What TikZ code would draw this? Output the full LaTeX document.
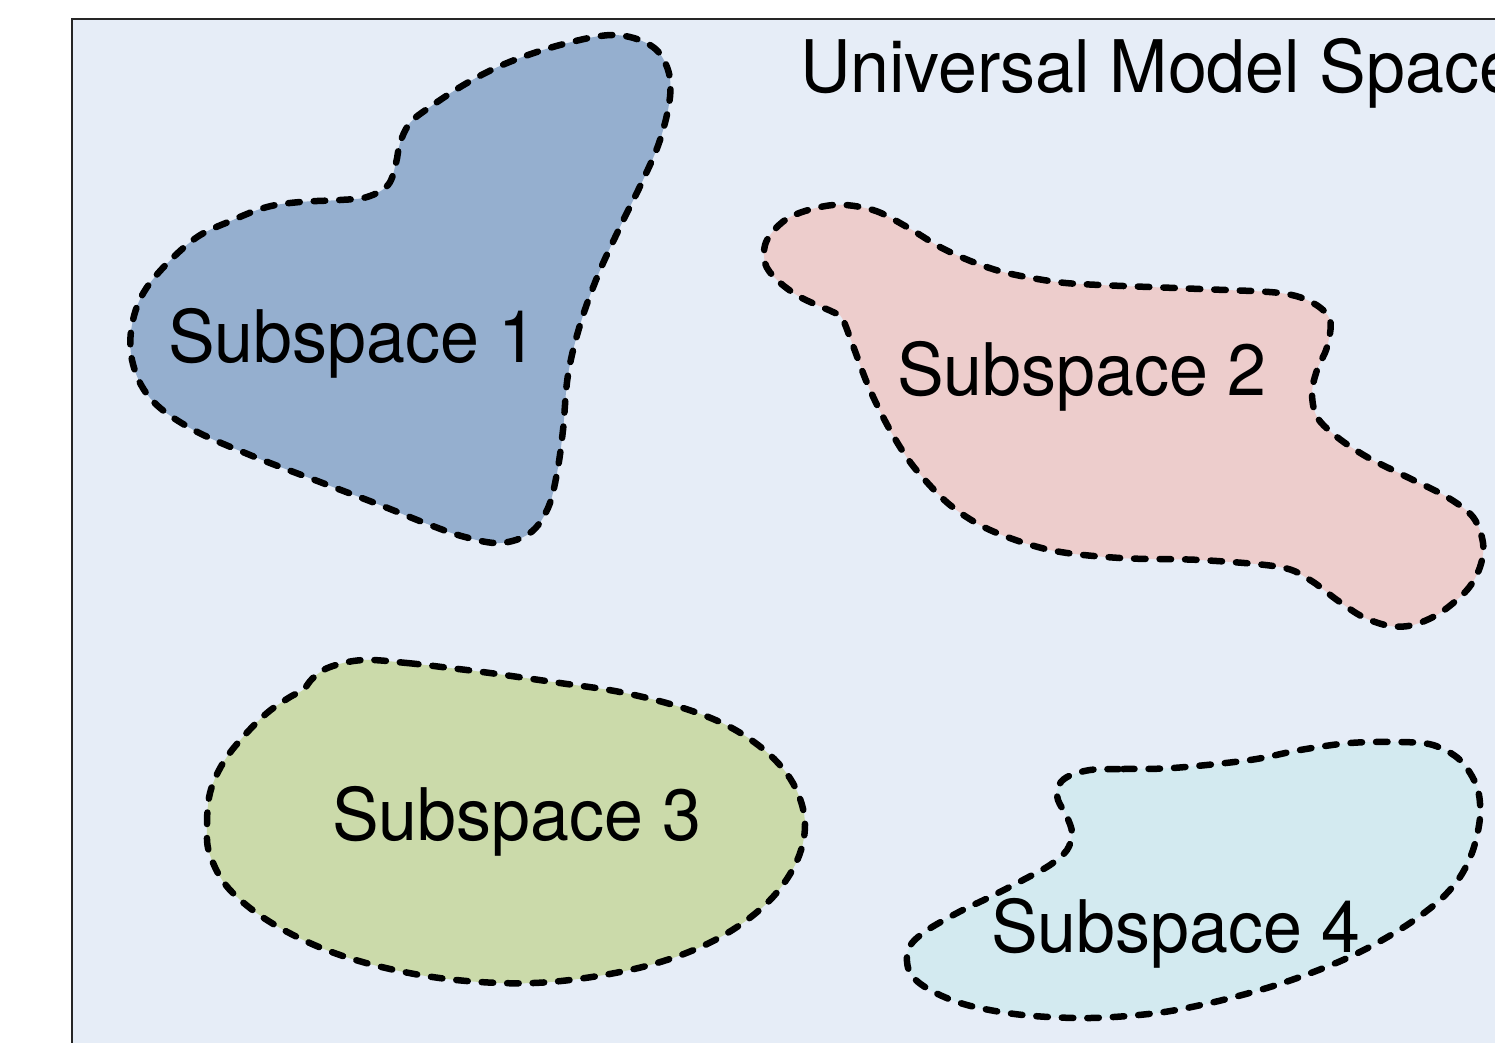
\documentclass[tikz,border=0pt]{standalone}
\usepackage{fontspec}
\setmainfont[FakeStretch=0.965]{TeX Gyre Heros}
\definecolor{spacebg}{HTML}{E6EDF7}
\definecolor{sblue}{HTML}{95AFCF}
\definecolor{spink}{HTML}{EDCDCC}
\definecolor{sgreen}{HTML}{CBDAAA}
\definecolor{scyan}{HTML}{D3EAF0}
\tikzset{
  blobline/.style={draw=black, line width=6.5pt, line cap=round, dash pattern=on 11.5pt off 14pt},
  lbl/.style={anchor=base west, inner sep=0pt, font=\fontsize{72.5}{86}\selectfont},
}
\begin{document}
\begin{tikzpicture}[x=1pt,y=-1pt]
\useasboundingbox (0,0) rectangle (1495,1042);
\begin{scope}
\clip (0,0) rectangle (1495,1042);
\fill[white] (0,0) rectangle (1495,1042);
\draw[fill=spacebg, line width=2pt, draw=black!85] (72,19) rectangle (1560,1100);

% blob paths
\def\blobA{plot[smooth cycle, tension=0.6] coordinates {(613,35) (650,45) (667,67) (670,97) (660,140) (643,180) (620,227) (598,275) (580,325) (568,375) (563,430) (557,473) (548,508) (530,533) (500,543) (465,537) (430,525) (380,505) (320,482) (250,455) (190,428) (150,398) (132,360) (133,320) (150,283) (193,240) (233,220) (267,207) (300,202) (340,200) (367,197) (388,185) (396,163) (400,143) (410,123) (430,107) (467,83) (507,63) (560,45)}}
\def\blobB{plot[smooth cycle, tension=0.55] coordinates {(833,205) (873,210) (907,227) (940,247) (973,262) (1007,273) (1057,282) (1100,285) (1200,289) (1280,293) (1313,303) (1330,320) (1327,347) (1317,370) (1312,393) (1317,417) (1337,437) (1367,457) (1407,477) (1447,497) (1473,517) (1483,543) (1480,567) (1467,590) (1440,613) (1413,625) (1390,626) (1363,617) (1337,600) (1310,580) (1280,567) (1200,560) (1120,558) (1050,550) (990,530) (950,505) (918,472) (900,447) (883,417) (867,383) (852,343) (842,318) (833,312) (800,297) (777,280) (765,263) (767,240) (790,217)}}
\def\blobC{plot[smooth cycle, tension=0.6] coordinates {(363,660) (407,663) (450,668) (490,673) (560,683) (620,692) (680,707) (730,727) (770,755) (795,787) (805,825) (795,865) (765,905) (715,940) (650,965) (570,980) (500,983) (420,975) (340,955) (275,925) (230,890) (210,855) (207,827) (210,793) (223,763) (243,737) (267,713) (290,697) (303,690) (313,678) (330,667)}}
\def\blobD{plot[smooth cycle, tension=0.55] coordinates {(1090,770) (1123,769) (1173,768) (1250,760) (1300,750) (1350,743) (1400,742) (1433,745) (1460,760) (1477,787) (1480,817) (1473,850) (1460,877) (1440,900) (1410,923) (1377,943) (1343,960) (1300,977) (1260,990) (1210,1003) (1157,1013) (1090,1018) (1023,1015) (967,1005) (930,990) (910,973) (908,950) (923,933) (957,913) (990,897) (1023,880) (1050,865) (1067,850) (1072,833) (1067,817) (1058,800) (1058,787) (1067,777)}}

\fill[sblue] \blobA;
\fill[spink] \blobB;
\fill[sgreen] \blobC;
\fill[scyan] \blobD;

\node[lbl] (title) at (800,92) {Universal Model Space};
\node[lbl] (s1) at (168,362) {Subspace 1};
\node[lbl] (s2) at (897,395) {Subspace 2};
\node[lbl] (s3) at (332,840) {Subspace 3};
\node[lbl] (s4) at (991,952) {Subspace 4};

\path[blobline] \blobA;
\path[blobline] \blobB;
\path[blobline] \blobC;
\path[blobline] \blobD;
\end{scope}
\end{tikzpicture}
\end{document}
